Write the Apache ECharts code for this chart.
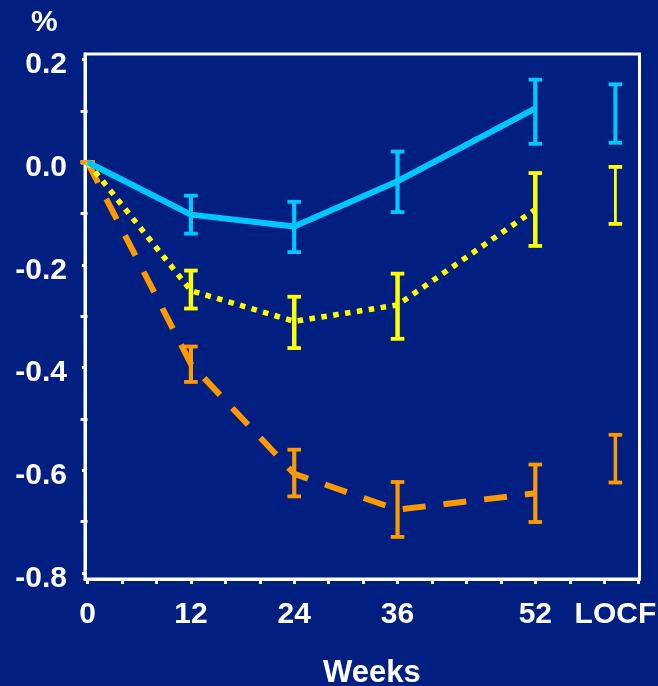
<!DOCTYPE html>
<html>
<head>
<meta charset="utf-8">
<script src="https://cdn.jsdelivr.net/npm/echarts@6/dist/echarts.min.js"></script>
<style>html,body{margin:0;padding:0;background:#001f80;}#c{width:658px;height:686px;}</style>
</head>
<body>
<div id="c"></div>
<script>
// ---- data ----
const weeks = [0, 12, 24, 36, 52];
const LOCF_X = 61.3;
const errWeeks = [0, 12, 24, 36, 52, LOCF_X];
const xTickLabels = [0, 12, 24, 36, 52, LOCF_X];
const xTicks = [0, 4, 8, 12, 16, 20, 24, 28, 32, 36, 40, 44, 48, 52, 56, 60, 64];
const yTickLabels = [0.2, 0.0, -0.2, -0.4, -0.6, -0.8];
const yMinorTicks = [0.1, -0.1, -0.3, -0.5, -0.7];

const cyanMean = [0, -0.102, -0.125, -0.037, 0.105];
const cyanLow  = [0, -0.139, -0.175, -0.097, 0.036, 0.038];
const cyanHigh = [0, -0.065, -0.077, 0.021, 0.161, 0.152];

const yellowMean = [0, -0.250, -0.310, -0.278, -0.092];
const yellowLow  = [0, -0.285, -0.362, -0.344, -0.163, -0.120];
const yellowHigh = [0, -0.211, -0.262, -0.217, -0.021, -0.009];

const orangeMean = [0, -0.393, -0.607, -0.677, -0.645];
const orangeLow  = [0, -0.428, -0.651, -0.730, -0.701, -0.624];
const orangeHigh = [0, -0.359, -0.560, -0.623, -0.589, -0.531];

// ---- styles ----
const CYAN = '#00c8ff', YELLOW = '#ffff00', ORANGE = '#ff9900';
const FONT = 'Liberation Sans';

function pairs(xs, ys) { return xs.map((x, i) => [x, ys[i]]); }
function errData(lo, hi) { return errWeeks.map((x, i) => [x, lo[i], hi[i]]); }

function errRenderer(color, barW, lastW) {
  return function (params, api) {
    const x = api.value(0), lo = api.value(1), hi = api.value(2);
    const p1 = api.coord([x, hi]);
    const p2 = api.coord([x, lo]);
    const w = (params.dataIndex === errWeeks.length - 1) ? lastW : barW;
    const hw = 6.8;
    return {
      type: 'group',
      children: [
        { type: 'line', shape: { x1: p1[0], y1: p1[1], x2: p2[0], y2: p2[1] }, style: { stroke: color, lineWidth: w } },
        { type: 'line', shape: { x1: p1[0] - hw, y1: p1[1], x2: p1[0] + hw, y2: p1[1] }, style: { stroke: color, lineWidth: 3.8 } },
        { type: 'line', shape: { x1: p2[0] - hw, y1: p2[1], x2: p2[0] + hw, y2: p2[1] }, style: { stroke: color, lineWidth: 3.8 } }
      ]
    };
  };
}

const tickFont = { color: '#ffffff', fontFamily: FONT, fontWeight: 'bold', fontSize: 30 };
const nameFont = { color: '#ffffff', fontFamily: FONT, fontWeight: 'bold', fontSize: 31 };

const chart = echarts.init(document.getElementById('c'), null, { renderer: 'canvas' });
chart.setOption({
  backgroundColor: '#001f80',
  animation: false,
  title: [
    { text: '%', left: 31, top: 8, padding: 0, textStyle: { color: '#ffffff', fontFamily: FONT, fontWeight: 'bold', fontSize: 30 } },
    { text: 'Weeks', left: 323, top: 658, padding: 0, textStyle: nameFont }
  ],
  grid: {
    left: 85, right: 18.5, top: 54, bottom: 107,
    show: true, borderColor: '#ffffff', borderWidth: 3, backgroundColor: 'transparent',
    outerBoundsMode: 'none', containLabel: false
  },
  xAxis: {
    type: 'value', min: -0.3, max: 64.1,
    axisLine: { show: true, onZero: false, lineStyle: { color: '#ffffff', width: 3 } },
    axisTick: { show: true, length: 5, lineStyle: { color: '#ffffff', width: 3 }, customValues: xTicks },
    axisLabel: Object.assign({ margin: 21, customValues: xTickLabels,
      formatter: v => (Math.abs(v - LOCF_X) < 0.01 ? 'LOCF' : String(Math.round(v))) }, tickFont),
    splitLine: { show: false }
  },
  yAxis: [
    {
      type: 'value', min: -0.812, max: 0.211, position: 'left',
      axisLine: { show: true, onZero: false, lineStyle: { color: '#ffffff', width: 3 } },
      axisTick: { show: true, length: 3, lineStyle: { color: '#ffffff', width: 3 }, customValues: yTickLabels },
      axisLabel: Object.assign({ margin: 18, verticalAlign: 'top', lineHeight: 11, customValues: yTickLabels,
        formatter: v => v.toFixed(1) }, tickFont),
      splitLine: { show: false }
    },
    {
      type: 'value', min: -0.812, max: 0.211, position: 'left', offset: 0,
      axisLine: { show: false },
      axisTick: { show: true, length: 7, lineStyle: { color: '#ffffff', width: 3 }, customValues: yMinorTicks },
      axisLabel: { show: false },
      splitLine: { show: false }
    }
  ],
  series: [
    { type: 'custom', data: errData(cyanLow, cyanHigh), renderItem: errRenderer(CYAN, 4.2, 4), encode: { x: 0, y: [1, 2] }, z: 4 },
    { type: 'custom', data: errData(yellowLow, yellowHigh), renderItem: errRenderer(YELLOW, 4.5, 2.8), encode: { x: 0, y: [1, 2] }, z: 4 },
    { type: 'custom', data: errData(orangeLow, orangeHigh), renderItem: errRenderer(ORANGE, 4.2, 3.5), encode: { x: 0, y: [1, 2] }, z: 4 },
    { type: 'line', data: pairs(weeks, orangeMean), showSymbol: false, symbol: 'none',
      lineStyle: { color: ORANGE, width: 6, type: [23, 18], cap: 'butt' }, z: 5 },
    { type: 'line', data: pairs(weeks, yellowMean), showSymbol: false, symbol: 'none',
      lineStyle: { color: YELLOW, width: 5.5, type: [5.5, 6.5], cap: 'butt' }, z: 5 },
    { type: 'line', data: pairs(weeks, cyanMean), showSymbol: false, symbol: 'none',
      lineStyle: { color: CYAN, width: 6, type: 'solid' }, z: 5 }
  ]
});
</script>
</body>
</html>
